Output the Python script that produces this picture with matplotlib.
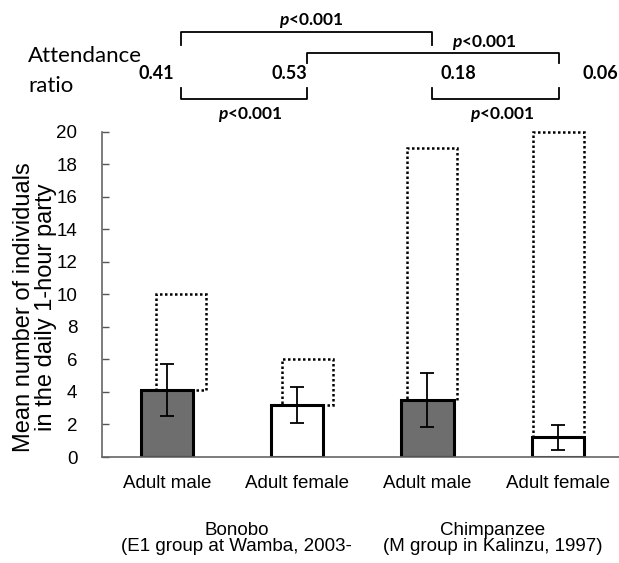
import matplotlib
matplotlib.use('Agg')
import matplotlib.pyplot as plt
import numpy as np

plt.rcParams['font.family'] = ['Liberation Sans', 'DejaVu Sans']
plt.rcParams['mathtext.fontset'] = 'custom'
plt.rcParams['mathtext.it'] = 'Lato:italic:bold'
plt.rcParams['mathtext.rm'] = 'Lato:bold'

# data
categories = ['Adult male', 'Adult female', 'Adult male', 'Adult female']
groups = ['Bonobo\n(E1 group at Wamba, 2003-', 'Chimpanzee\n(M group in Kalinzu, 1997)']
mean_party = [4.1, 3.2, 3.5, 1.2]
sd_party = [1.6, 1.1, 1.65, 0.75]
group_total = [10, 6, 19, 20]
attendance = [0.41, 0.53, 0.18, 0.06]
# (i, j) pairs compared, all p<0.001
comparisons = [(0, 2), (1, 3), (0, 1), (2, 3)]

x = np.arange(len(categories))
box_x = x + np.array([0.105, 0.075, 0.035, 0.01])   # dotted boxes sit a bit to the right
bar_colors = ['#6e6e6e', 'white', '#6e6e6e', 'white']

fig = plt.figure(figsize=(6.19, 5.63), dpi=100)
ax = fig.add_axes([101.7 / 619, 106 / 563, 1 - 101.7 / 619, 325.3 / 563])

# group size (dotted) boxes stacked on top of the mean
ax.bar(box_x, np.subtract(group_total, mean_party), bottom=mean_party, width=0.39,
       fill=False, edgecolor='black', linestyle=(0, (1, 1)), linewidth=1.8,
       clip_on=False, zorder=1)
ax.bar(x, mean_party, width=0.4, color=bar_colors, edgecolor='black', linewidth=2.2,
       yerr=sd_party, zorder=2,
       error_kw=dict(ecolor='black', elinewidth=1.3, capsize=5, capthick=1.3, zorder=3))

ax.set_xlim(-0.506, 3.473)
ax.set_ylim(0, 20)
ax.set_yticks(range(0, 21, 2))
ax.set_xticks(x)
ax.set_xticklabels(categories, fontsize=13.5)
ax.tick_params(axis='x', length=0, pad=13)
ax.tick_params(axis='y', direction='in', length=5, width=1, color='#555555',
               labelsize=13.5, pad=17.5)
for s in ['top', 'right']:
    ax.spines[s].set_visible(False)
for s in ['left', 'bottom']:
    ax.spines[s].set_color('#666666')
    ax.spines[s].set_linewidth(1.2)

fig.text(35 / 619, (563 - 307) / 563,
         'Mean number of individuals\nin the daily 1-hour party',
         rotation=90, ha='center', va='center', fontsize=17, linespacing=0.95)

# group labels under the categories
for k, g in enumerate(groups):
    gx = (x[2 * k] + x[2 * k + 1]) / 2 + (0.03 if k == 0 else 0)
    ax.text(gx, -0.2505, g, transform=ax.get_xaxis_transform(), ha='center',
            va='center', fontsize=13.5, linespacing=0.85)

# attendance ratio row and brackets
fig.text(28 / 619, (563 - 56) / 563, 'Attendance', ha='left', va='center',
         fontsize=16, family=['Lato', 'DejaVu Sans'])
fig.text(28 / 619, (563 - 86) / 563, 'ratio', ha='left', va='center',
         fontsize=16, family=['Lato', 'DejaVu Sans'])
ratio_x = [-0.085, 0.94, 2.235, 3.33]
for rx, r in zip(ratio_x, attendance):
    ax.text(rx, 23.55, f'{r:.2f}', ha='center', va='center', fontsize=13,
            family=['Lato', 'DejaVu Sans'], fontweight='bold', clip_on=False)

bracket_y = [(26.1, 25.35), (24.86, 24.25), (22.03, 22.7), (22.03, 22.7)]
label_pos = [(1.104, 26.83), (2.435, 25.48), (0.635, 21.05), (2.573, 21.05)]
for (i, j), (yb, ye), (lx, ly) in zip(comparisons, bracket_y, label_pos):
    ax.plot([box_x[i], box_x[i], box_x[j], box_x[j]], [ye, yb, yb, ye],
            color='black', lw=1.3, clip_on=False)
    ax.text(lx, ly, r'$\mathit{p}$<0.001', ha='center', va='center', fontsize=12.5,
            family=['Lato', 'DejaVu Sans'], fontweight='bold', clip_on=False)

fig.savefig('out.png', dpi=100)
